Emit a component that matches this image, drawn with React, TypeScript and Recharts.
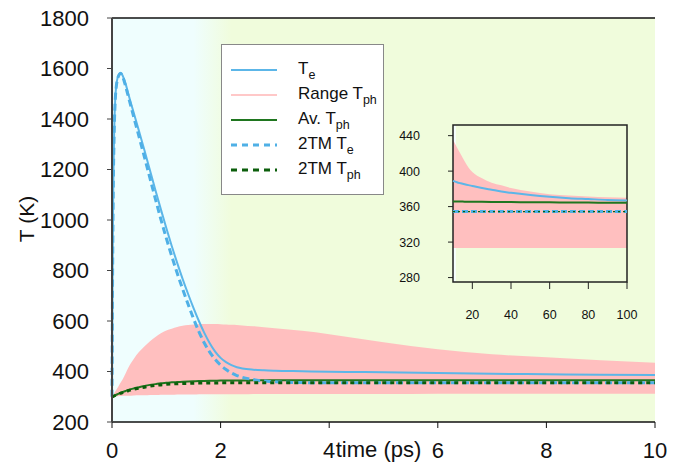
import React from 'react'
import {
  ComposedChart, Line, Area, XAxis, YAxis, ReferenceLine, ReferenceArea,
} from 'recharts'

const FONT = "'Liberation Sans', Arial, Helvetica, sans-serif"

// main panel, time in ps
const times = [0, 0.01, 0.02, 0.04, 0.06, 0.08, 0.1, 0.13, 0.16, 0.2, 0.25, 0.3, 0.4, 0.5, 0.6, 0.7, 0.8, 0.9, 1.0, 1.1, 1.2, 1.3, 1.4, 1.5, 1.6, 1.7, 1.8, 1.9, 2.0, 2.1, 2.2, 2.3, 2.4, 2.6, 2.8, 3.0, 3.5, 4, 4.5, 5, 6, 7, 8, 9, 10]
const teLine = [300, 750, 1050, 1350, 1480, 1535, 1560, 1578, 1583, 1570, 1540, 1500, 1425, 1350, 1274, 1196, 1118, 1042, 968, 897, 830, 767, 708, 652, 600, 553, 512, 479, 454, 437, 425, 417, 412, 407, 404.5, 403, 401, 399, 398, 397, 394, 391, 389, 387, 386]
const tmTe = [300, 750, 1050, 1345, 1475, 1530, 1556, 1574, 1580, 1566, 1530, 1490, 1408, 1328, 1247, 1165, 1083, 1003, 928, 857, 790, 727, 667, 610, 558, 513, 477, 448, 425, 408, 394, 384, 377, 368, 362, 359, 356, 355, 355, 355, 355, 355, 355, 355, 355]
const rangeLow = [300, 300, 301, 301, 302, 302, 302, 303, 303, 304, 304, 304, 305, 306, 306, 307, 307, 308, 308, 308, 309, 309, 309, 309, 310, 310, 310, 310, 310, 310, 310, 310, 310, 311, 311, 311, 311, 311, 311, 311, 312, 312, 312, 312, 312]
const rangeHigh = [300, 303, 307, 314, 321, 328, 335, 346, 356, 370, 392, 415, 450, 478, 500, 520, 537, 551, 562, 569, 576, 581, 584, 586, 587, 588, 588, 588, 587, 586, 585, 584, 582, 579, 575, 571, 561, 548, 532, 516, 488, 468, 456, 445, 435]
const avTph = [300, 301, 302, 304, 306, 308, 310, 313, 316, 319, 323, 327, 333, 338, 343, 347, 350, 353, 355, 357, 358, 359, 360, 361, 362, 362.5, 363, 363.5, 364, 364, 364, 364.5, 364.5, 365, 365, 365, 365, 365, 365, 365, 365, 365, 365, 365, 365]
const tmTph = [300, 300.5, 301, 303, 305, 307, 309, 312, 314, 317, 321, 324, 330, 334, 338, 342, 345, 347, 349, 350.5, 351.5, 352.5, 353, 353.5, 354, 354, 354.5, 354.5, 355, 355, 355, 355, 355, 355, 355, 355, 355, 355, 355, 355, 355, 355, 355, 355, 355]

const xTicks = [0, 2, 4, 6, 8, 10]
const yTicks = [200, 400, 600, 800, 1000, 1200, 1400, 1600, 1800]

// inset, long times
const insetX = [10, 12, 14, 16, 18, 20, 25, 30, 35, 40, 50, 60, 70, 80, 90, 100]
const insetTe = [389, 387.5, 386.3, 385.2, 384.2, 383.3, 381, 379, 377, 375.5, 373, 371, 369.5, 368.5, 367.5, 367]
const insetHigh = [435, 427, 419, 411, 404, 399, 392, 387, 384, 381, 377, 374, 372.5, 371.5, 370.5, 370]
const insetLow = [313.4, 313.4, 313.4, 313.4, 313.4, 313.4, 313.4, 313.4, 313.4, 313.4, 313.4, 313.4, 313.4, 313.4, 313.4, 313.4]
const insetAv = [365.8, 365.7, 365.7, 365.6, 365.6, 365.5, 365.4, 365.3, 365.2, 365.1, 365, 364.8, 364.7, 364.5, 364.4, 364.3]
const insetTmTe = [354.5, 354.5, 354.5, 354.5, 354.5, 354.5, 354.5, 354.5, 354.5, 354.5, 354.5, 354.5, 354.5, 354.5, 354.5, 354.5]
const insetTmTph = [354.4, 354.4, 354.4, 354.4, 354.4, 354.4, 354.4, 354.4, 354.4, 354.4, 354.4, 354.4, 354.4, 354.4, 354.4, 354.4]
const insetXTicks = [20, 40, 60, 80, 100]
const insetYTicks = [280, 320, 360, 400, 440]

const BLUE = '#5cb6e8'
const BLUE_DASH = '#4fb0e6'
const PINK = '#ffbfbf'
const GREEN = '#1f761f'
const GREEN_DOT = '#0b5e0b'

const mainRows = times.map((t, i) => ({
  t, te: teLine[i], range: [rangeLow[i], rangeHigh[i]], av: avTph[i], te2: tmTe[i], tph2: tmTph[i],
}))
const insetRows = insetX.map((t, i) => ({
  t, te: insetTe[i], range: [insetLow[i], insetHigh[i]], av: insetAv[i], te2: insetTmTe[i], tph2: insetTmTph[i],
}))

const legendItems = [
  { base: 'T', sub: 'e', color: BLUE, dash: undefined, w: 2 },
  { base: 'Range T', sub: 'ph', color: '#ffc8c8', dash: undefined, w: 2 },
  { base: 'Av. T', sub: 'ph', color: GREEN, dash: undefined, w: 2 },
  { base: '2TM T', sub: 'e', color: BLUE_DASH, dash: '6 5', w: 3 },
  { base: '2TM T', sub: 'ph', color: GREEN_DOT, dash: '6 5', w: 3 },
]

function LegendBox() {
  return (
    <div style={{
      width: 161, height: 149, border: '1px solid #888', background: '#fff',
      position: 'relative', fontFamily: FONT, fontSize: 17, color: '#111',
    }}>
      {legendItems.map((it, i) => (
        <div key={i} style={{ position: 'absolute', left: 0, top: 14 + i * 25, height: 22, width: 161 }}>
          <svg width={46} height={6} style={{ position: 'absolute', left: 9, top: 8 }}>
            <line x1={0} y1={3} x2={46} y2={3} stroke={it.color} strokeWidth={it.w} strokeDasharray={it.dash} />
          </svg>
          <span style={{ position: 'absolute', left: 76, top: 1, whiteSpace: 'nowrap', lineHeight: '18px' }}>
            {it.base}
            <span style={{ fontSize: 12.5, position: 'relative', top: 5 }}>{it.sub}</span>
          </span>
        </div>
      ))}
    </div>
  )
}

const tickStyle = { fontSize: 22, fill: '#111', fontFamily: FONT }

export default function App() {
  return (
    <div style={{ position: 'absolute', left: 0, top: 0, width: 681, height: 463, background: '#fff', overflow: 'hidden' }}>
      {/* plot background */}
      <div style={{
        position: 'absolute', left: 112, top: 18, width: 543, height: 404,
        background: 'linear-gradient(to right, #effefe 0%, #effefe 15%, #f0fcdc 22%, #f0fcdc 100%)',
      }} />
      <div style={{ position: 'absolute', left: 0, top: 0 }}>
        <ComposedChart width={681} height={463} data={mainRows} margin={{ top: 18, right: 26, bottom: 11, left: 52 }}>
          <XAxis
            type="number" dataKey="t" domain={[0, 10]} ticks={xTicks} interval={0}
            height={30} tickSize={6} tickMargin={14}
            axisLine={{ stroke: '#111', strokeWidth: 1.5 }} tickLine={{ stroke: '#111' }}
            tick={tickStyle}
            label={(p: any) => {
              const vb = p.viewBox
              return (
                <text x={vb.x + vb.width / 2 - 5} y={vb.y + 35} textAnchor="middle"
                  fontSize={22} fill="#111" fontFamily={FONT}>time (ps)</text>
              )
            }}
          />
          <YAxis
            type="number" domain={[200, 1800]} ticks={yTicks} interval={0}
            width={60} tickSize={5} tickMargin={18}
            axisLine={{ stroke: '#444', strokeWidth: 2 }} tickLine={{ stroke: '#444' }}
            tick={tickStyle}
            label={() => (
              <text x={34} y={219} transform="rotate(-90 34 219)" textAnchor="middle"
                fontSize={21} fill="#111" fontFamily={FONT}>T (K)</text>
            )}
          />
          <ReferenceLine y={1800} stroke="#111" strokeWidth={1.5} />
          <Area type="monotone" dataKey="range" stroke="none" fill={PINK} fillOpacity={1} isAnimationActive={false} />
          <Line type="monotone" dataKey="te" stroke={BLUE} strokeWidth={2} dot={false} activeDot={false} isAnimationActive={false} />
          <Line type="monotone" dataKey="av" stroke={GREEN} strokeWidth={2} dot={false} activeDot={false} isAnimationActive={false} />
          <Line type="monotone" dataKey="te2" stroke={BLUE_DASH} strokeWidth={3} strokeDasharray="7 4" dot={false} activeDot={false} isAnimationActive={false} />
          <Line type="monotone" dataKey="tph2" stroke={GREEN_DOT} strokeWidth={3} strokeDasharray="4 4" dot={false} activeDot={false} isAnimationActive={false} />
        </ComposedChart>
      </div>

      {/* legend */}
      <div style={{ position: 'absolute', left: 221, top: 44 }}>
        <LegendBox />
      </div>

      {/* inset */}
      <div style={{ position: 'absolute', left: 395, top: 115 }}>
        <ComposedChart width={250} height={215} data={insetRows} margin={{ top: 10, right: 18, bottom: 8, left: 18 }}>
          <XAxis
            type="number" dataKey="t" domain={[10, 100]} ticks={insetXTicks} interval={0}
            height={40} tickSize={7} tickMargin={21}
            axisLine={false} tickLine={{ stroke: '#222' }}
            tick={{ fontSize: 12.5, fill: '#111', fontFamily: FONT }}
          />
          <YAxis
            type="number" domain={[275, 452]} ticks={insetYTicks} interval={0}
            width={40} tickSize={5} tickMargin={28}
            axisLine={false} tickLine={{ stroke: '#222' }}
            tick={{ fontSize: 12.5, fill: '#111', fontFamily: FONT }}
          />
          <ReferenceArea x1={10} x2={11.5} y1={275} y2={452} fill="#f6fefe" fillOpacity={1} stroke="none" />
          <Area type="monotone" dataKey="range" stroke="none" fill={PINK} fillOpacity={1} isAnimationActive={false} />
          <Line type="monotone" dataKey="te" stroke={BLUE} strokeWidth={2} dot={false} activeDot={false} isAnimationActive={false} />
          <Line type="monotone" dataKey="av" stroke={GREEN} strokeWidth={2} dot={false} activeDot={false} isAnimationActive={false} />
          <Line type="monotone" dataKey="te2" stroke={BLUE_DASH} strokeWidth={3} strokeDasharray="6 3" dot={false} activeDot={false} isAnimationActive={false} />
          <Line type="monotone" dataKey="tph2" stroke={GREEN_DOT} strokeWidth={1.2} strokeDasharray="2 3" dot={false} activeDot={false} isAnimationActive={false} />
          <ReferenceArea x1={10} x2={100} y1={275} y2={452} fill="none" stroke="#222" strokeWidth={1.5} />
        </ComposedChart>
      </div>
    </div>
  )
}
